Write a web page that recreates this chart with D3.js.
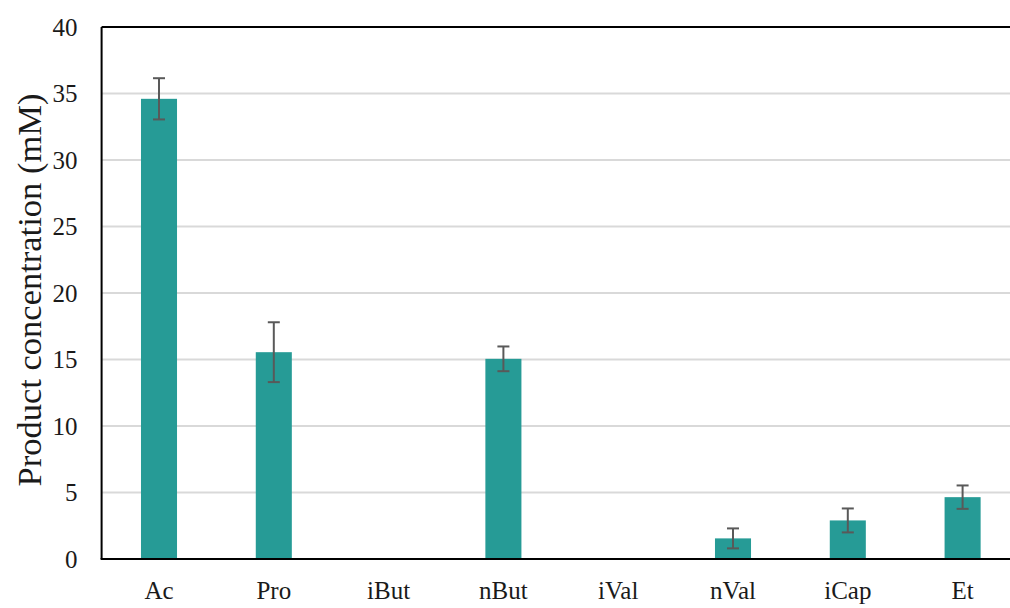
<!DOCTYPE html>
<html><head><meta charset="utf-8">
<script src="https://cdn.jsdelivr.net/npm/d3@7"></script>
<style>body{margin:0;background:#fff}svg{display:block}</style>
</head><body>
<svg id="c" width="1010" height="608"></svg>
<script>
const categories = ["Ac","Pro","iBut","nBut","iVal","nVal","iCap","Et"];
const values = [34.6, 15.55, 0, 15.05, 0, 1.55, 2.9, 4.65];
const errors = [1.55, 2.25, 0, 0.93, 0, 0.75, 0.9, 0.88];
const yTicks = [0,5,10,15,20,25,30,35,40];
const yLabel = "Product concentration (mM)";

(function(){
const svg = d3.select("#c");
const pL = 101.6, pR = 1020, pT = 27, pB = 559;
const font = "'Liberation Serif', serif";

const x = d3.scaleBand().domain(categories).range([pL, pR]).paddingInner(0.686).paddingOuter(0.343);
const y = d3.scaleLinear().domain([0, 40]).range([pB, pT]);

svg.append("g").selectAll("line").data(yTicks.filter(t => t > 0 && t < 40)).join("line")
  .attr("x1", pL).attr("x2", pR).attr("y1", d => y(d)).attr("y2", d => y(d))
  .attr("stroke", "#d9d9d9").attr("stroke-width", 2);

svg.append("g").selectAll("rect").data(categories).join("rect")
  .attr("x", d => x(d)).attr("width", x.bandwidth())
  .attr("y", (d,i) => y(values[i])).attr("height", (d,i) => y(0) - y(values[i]))
  .attr("fill", "#269b96");

const eb = svg.append("g").attr("stroke", "#595959").attr("stroke-width", 2);
categories.forEach((c, i) => {
  if (errors[i] <= 0) return;
  const cx = x(c) + x.bandwidth()/2;
  const y1 = y(values[i] + errors[i]), y2 = y(values[i] - errors[i]);
  eb.append("line").attr("x1", cx).attr("x2", cx).attr("y1", y1).attr("y2", y2);
  eb.append("line").attr("x1", cx-6).attr("x2", cx+6).attr("y1", y1).attr("y2", y1);
  eb.append("line").attr("x1", cx-6).attr("x2", cx+6).attr("y1", y2).attr("y2", y2);
});

svg.append("line").attr("x1", pL).attr("x2", pL).attr("y1", pT).attr("y2", pB).attr("stroke", "#000").attr("stroke-width", 2);
svg.append("line").attr("x1", pL).attr("x2", pR).attr("y1", pT).attr("y2", pT).attr("stroke", "#000").attr("stroke-width", 2);
svg.append("line").attr("x1", pL-1).attr("x2", pR).attr("y1", pB).attr("y2", pB).attr("stroke", "#000").attr("stroke-width", 2);

const yAxis = d3.axisLeft(y).tickValues(yTicks).tickSize(0).tickPadding(24);
const gy = svg.append("g").attr("transform", `translate(${pL},0)`).call(yAxis);
gy.select(".domain").remove();
gy.selectAll("text").attr("font-family", font).attr("font-size", 25).attr("fill", "#1a1a1a");

const xAxis = d3.axisBottom(x).tickSize(0).tickPadding(22);
const gx = svg.append("g").attr("transform", `translate(0,${pB})`).call(xAxis);
gx.select(".domain").remove();
gx.selectAll("text").attr("font-family", font).attr("font-size", 25).attr("fill", "#1a1a1a");

svg.append("text").attr("transform", `translate(41,${(pT+pB)/2-3}) rotate(-90)`)
  .attr("text-anchor", "middle").attr("font-family", font).attr("font-size", 34.5).attr("fill", "#1a1a1a")
  .text(yLabel);
})();
</script>
</body></html>
